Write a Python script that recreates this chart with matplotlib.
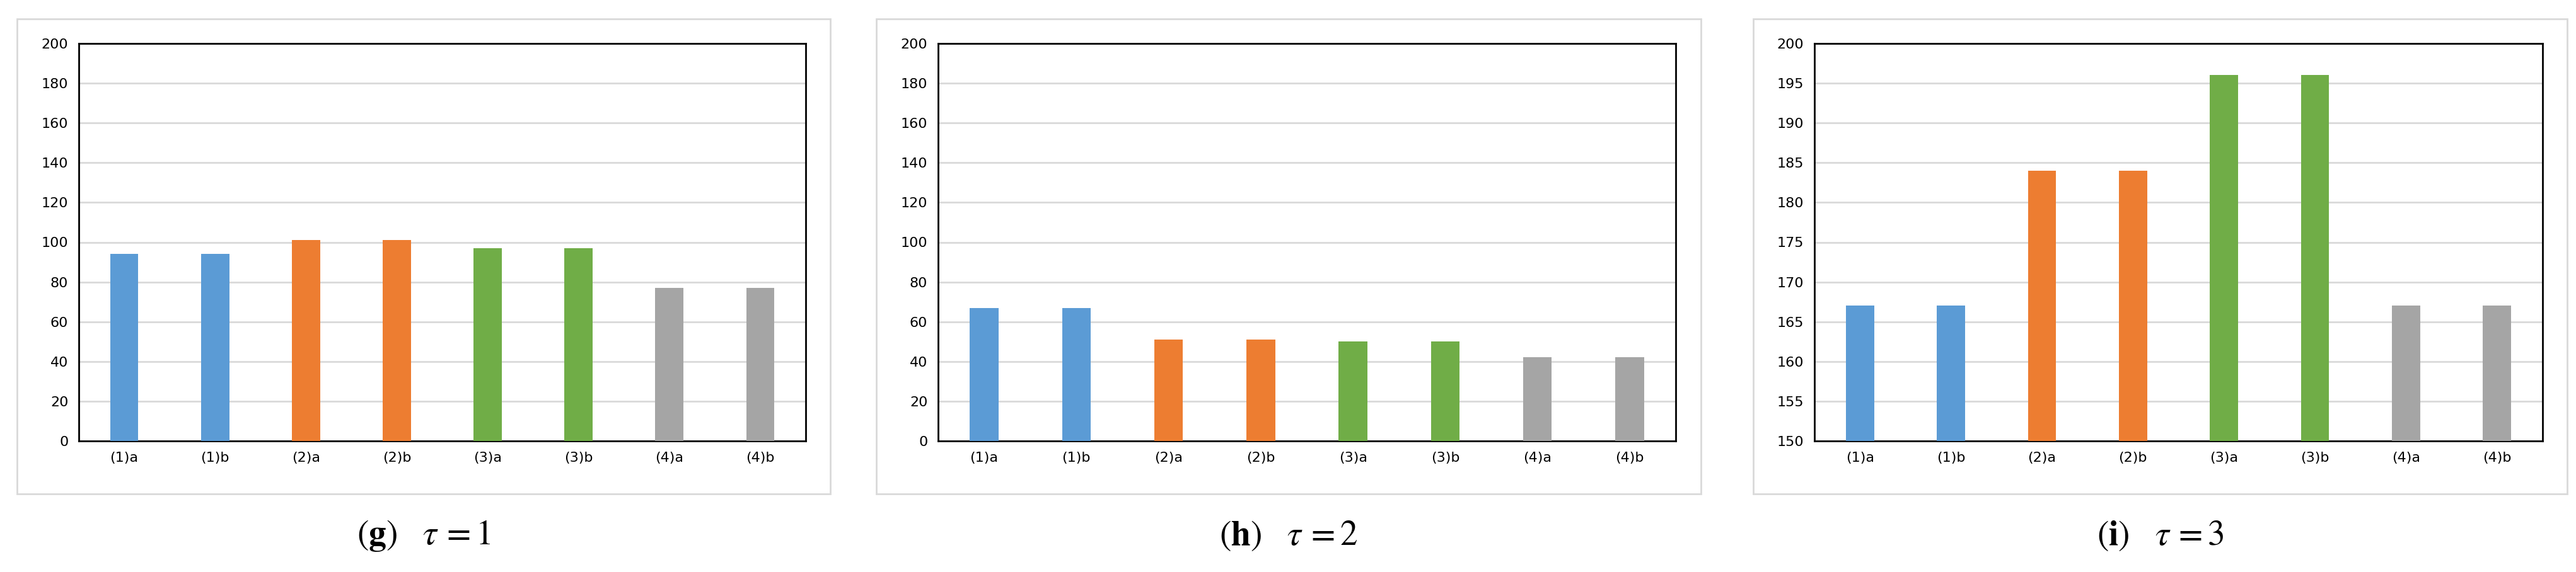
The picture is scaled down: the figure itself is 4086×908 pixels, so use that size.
import matplotlib
matplotlib.use("Agg")
import matplotlib.pyplot as plt
from matplotlib.patches import Rectangle

categories = ['(1)a', '(1)b', '(2)a', '(2)b', '(3)a', '(3)b', '(4)a', '(4)b']
values_g = [94, 94, 101, 101, 97, 97, 77, 77]
values_h = [67, 67, 51, 51, 50, 50, 42, 42]
values_i = [167, 167, 184, 184, 196, 196, 167, 167]
bar_colors = ['#5B9BD5', '#5B9BD5', '#ED7D31', '#ED7D31',
              '#70AD47', '#70AD47', '#A5A5A5', '#A5A5A5']

plt.rcParams['mathtext.fontset'] = 'stix'
tick_font = ['Liberation Sans Narrow', 'DejaVu Sans']

W, H = 4086, 908
fig = plt.figure(figsize=(W / 100, H / 100), dpi=100)

panels = [
    (values_g, (0, 200, 20), 'g', '1', (27, 1317), (125, 1278)),
    (values_h, (0, 200, 20), 'h', '2', (1390, 2698), (1488, 2658)),
    (values_i, (150, 200, 5), 'i', '3', (2781, 4072), (2878, 4033)),
]

for vals, (lo, hi, step), letter, tau, (bx0, bx1), (ax0, ax1) in panels:
    # light frame around each chart
    fig.patches.append(Rectangle((bx0 / W, 1 - 784 / H), (bx1 - bx0) / W, (784 - 30) / H,
                                 transform=fig.transFigure, fill=False,
                                 edgecolor='#d9d9d9', linewidth=2))
    ax = fig.add_axes([ax0 / W, 1 - 700 / H, (ax1 - ax0) / W, (700 - 69) / H])
    x = range(len(categories))
    ax.bar(x, [v - lo for v in vals], bottom=lo, width=0.31, color=bar_colors, zorder=3)
    ax.set_ylim(lo, hi)
    ax.set_xlim(-0.5, len(categories) - 0.5)
    ax.set_yticks(range(lo, hi + 1, step))
    ax.set_xticks(list(x))
    ax.set_xticklabels(categories, fontfamily=tick_font, fontsize=16)
    for lbl in ax.get_yticklabels():
        lbl.set_fontfamily(tick_font)
        lbl.set_fontsize(16)
    ax.tick_params(length=0, pad=12)
    ax.grid(axis='y', color='#d9d9d9', linewidth=2, zorder=0)
    for s in ax.spines.values():
        s.set_linewidth(2)
        s.set_color('black')
    cx = (bx0 + bx1) / 2 / W
    fig.text(cx, 1 - 850 / H, r'$(\mathbf{' + letter + r'})\quad \tau\,=' + tau + '$',
             ha='center', va='center', fontsize=40)

fig.savefig('out.png', dpi=100)
